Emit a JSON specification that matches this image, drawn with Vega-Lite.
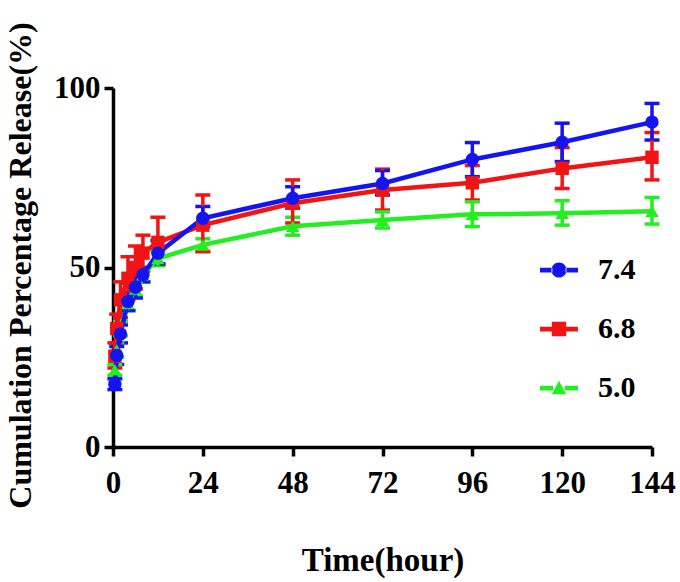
{
  "$schema": "https://vega.github.io/schema/vega-lite/v6.json",
  "description": "Cumulative release over time at three pH values",
  "autosize": "none",
  "padding": {"left": 113, "top": 88, "right": 28, "bottom": 135},
  "width": 539,
  "height": 359,
  "background": "white",
  "config": {
    "view": {"stroke": null},
    "font": "Liberation Serif",
    "axis": {
      "domainColor": "black",
      "domainWidth": 3.5,
      "tickColor": "black",
      "tickWidth": 3.5,
      "tickSize": 9,
      "grid": false,
      "labelFlush": false,
      "labelFont": "Liberation Serif",
      "labelFontWeight": "bold",
      "labelFontSize": 31,
      "labelColor": "black",
      "titleFont": "Liberation Serif",
      "titleFontWeight": "bold",
      "titleFontSize": 33,
      "titleColor": "black"
    },
    "legend": {
      "orient": "none",
      "legendX": 427,
      "legendY": 163,
      "padding": 0,
      "symbolSize": 1444,
      "symbolStrokeWidth": 0,
      "symbolOpacity": 1,
      "rowPadding": 25,
      "labelOffset": 20,
      "labelFont": "Liberation Serif",
      "labelFontWeight": "bold",
      "labelFontSize": 30,
      "labelColor": "black"
    }
  },
  "data": {
    "values": [
      {"time": 0.5, "ph": "5.0", "mean": 21.5, "lo": 20, "hi": 23},
      {"time": 1, "ph": "5.0", "mean": 27, "lo": 25, "hi": 29},
      {"time": 2, "ph": "5.0", "mean": 33, "lo": 31, "hi": 35},
      {"time": 4, "ph": "5.0", "mean": 40, "lo": 38, "hi": 42},
      {"time": 6, "ph": "5.0", "mean": 44, "lo": 42, "hi": 46},
      {"time": 8, "ph": "5.0", "mean": 48, "lo": 46, "hi": 50},
      {"time": 12, "ph": "5.0", "mean": 52.5, "lo": 50.5, "hi": 54.5},
      {"time": 24, "ph": "5.0", "mean": 56.3, "lo": 54.5, "hi": 58},
      {"time": 48, "ph": "5.0", "mean": 61.5, "lo": 59, "hi": 64},
      {"time": 72, "ph": "5.0", "mean": 63.2, "lo": 61, "hi": 65.5},
      {"time": 96, "ph": "5.0", "mean": 64.8, "lo": 61.4, "hi": 68.3},
      {"time": 120, "ph": "5.0", "mean": 65.1, "lo": 61.8, "hi": 68.6},
      {"time": 144, "ph": "5.0", "mean": 65.7, "lo": 62.1, "hi": 69.5},
      {"time": 0.5, "ph": "6.8", "mean": 25.3, "lo": 22, "hi": 29},
      {"time": 1, "ph": "6.8", "mean": 33, "lo": 29, "hi": 37},
      {"time": 2, "ph": "6.8", "mean": 41, "lo": 36, "hi": 46},
      {"time": 4, "ph": "6.8", "mean": 47, "lo": 41, "hi": 53},
      {"time": 6, "ph": "6.8", "mean": 50, "lo": 44, "hi": 56},
      {"time": 8, "ph": "6.8", "mean": 54, "lo": 49, "hi": 59},
      {"time": 12, "ph": "6.8", "mean": 57, "lo": 51, "hi": 64},
      {"time": 24, "ph": "6.8", "mean": 61.8, "lo": 54.4, "hi": 70.2},
      {"time": 48, "ph": "6.8", "mean": 67.9, "lo": 62.4, "hi": 74.4},
      {"time": 72, "ph": "6.8", "mean": 71.6, "lo": 66, "hi": 77.4},
      {"time": 96, "ph": "6.8", "mean": 73.6, "lo": 68.8, "hi": 78.4},
      {"time": 120, "ph": "6.8", "mean": 77.6, "lo": 72, "hi": 83.4},
      {"time": 144, "ph": "6.8", "mean": 80.7, "lo": 74.4, "hi": 87.6},
      {"time": 0.5, "ph": "7.4", "mean": 17.5, "lo": 16, "hi": 19},
      {"time": 1, "ph": "7.4", "mean": 25.5, "lo": 23, "hi": 28},
      {"time": 2, "ph": "7.4", "mean": 31.5, "lo": 29, "hi": 34},
      {"time": 4, "ph": "7.4", "mean": 40.5, "lo": 38, "hi": 43},
      {"time": 6, "ph": "7.4", "mean": 44.5, "lo": 41.5, "hi": 47.5},
      {"time": 8, "ph": "7.4", "mean": 48, "lo": 46, "hi": 50},
      {"time": 12, "ph": "7.4", "mean": 54, "lo": 51, "hi": 57.5},
      {"time": 24, "ph": "7.4", "mean": 63.7, "lo": 61.4, "hi": 67},
      {"time": 48, "ph": "7.4", "mean": 69.3, "lo": 66.5, "hi": 72.5},
      {"time": 72, "ph": "7.4", "mean": 73.4, "lo": 70.2, "hi": 77},
      {"time": 96, "ph": "7.4", "mean": 80.1, "lo": 75.3, "hi": 84.8},
      {"time": 120, "ph": "7.4", "mean": 84.9, "lo": 79.5, "hi": 90.2},
      {"time": 144, "ph": "7.4", "mean": 90.5, "lo": 85.5, "hi": 95.7}
    ]
  },
  "encoding": {
    "x": {
      "field": "time",
      "type": "quantitative",
      "scale": {"domain": [0, 144], "nice": false, "zero": true},
      "axis": {
        "values": [0, 24, 48, 72, 96, 120, 144],
        "labelPadding": 12,
        "title": "Time(hour)",
        "titleBaseline": "alphabetic",
        "titleY": 123,
        "titleX": 269.5,
        "titleAlign": "center"
      }
    },
    "color": {
      "field": "ph",
      "type": "nominal",
      "scale": {"domain": ["7.4", "6.8", "5.0"], "range": ["#1414f0", "#f01414", "#22ee22"]},
      "legend": null
    }
  },
  "layer": [
    {
      "mark": {"type": "errorbar", "opacity": 1, "thickness": 3.5, "ticks": {"size": 15, "thickness": 3.5, "opacity": 1}, "rule": {"opacity": 1}},
      "encoding": {
        "y": {
          "field": "lo",
          "type": "quantitative",
          "scale": {"domain": [0, 100], "nice": false},
          "axis": {
            "values": [0, 50, 100],
            "labelPadding": 4,
            "labelBaseline": "middle",
            "title": "Cumulation Percentage Release(%)",
            "titleFontSize": 32,
            "titleAngle": -90,
            "titleBaseline": "alphabetic",
            "titleAlign": "center",
            "titleX": -83,
            "titleY": 177
          }
        },
        "y2": {"field": "hi"}
      }
    },
    {
      "mark": {"type": "line", "strokeWidth": 4.5},
      "encoding": {
        "y": {"field": "mean", "type": "quantitative"}
      }
    },
    {
      "mark": {"type": "point", "filled": true, "opacity": 1, "size": 180},
      "encoding": {
        "y": {"field": "mean", "type": "quantitative"},
        "shape": {
          "field": "ph",
          "type": "nominal",
          "scale": {"domain": ["7.4", "6.8", "5.0"], "range": ["circle", "square", "triangle-up"]},
          "legend": null
        }
      }
    },
    {
      "transform": [{"filter": "datum.time > 1000"}],
      "mark": {"type": "point", "filled": true, "opacity": 1, "size": 1444},
      "encoding": {
        "y": {"field": "mean", "type": "quantitative"},
        "color": {
          "field": "ph",
          "type": "nominal",
          "scale": {"domain": ["7.4", "6.8", "5.0"], "range": ["#1414f0", "#f01414", "#22ee22"]},
          "legend": {"title": null}
        },
        "shape": {
          "field": "ph",
          "type": "nominal",
          "scale": {
            "domain": ["7.4", "6.8", "5.0"],
            "range": [
              "M-1,-0.125H-0.35V0.125H-1Z M0.35,-0.125H1V0.125H0.35Z M-0.4,0A0.4,0.4 0 1,0 0.4,0A0.4,0.4 0 1,0 -0.4,0Z",
              "M-1,-0.125H-0.38V0.125H-1Z M0.38,-0.125H1V0.125H0.38Z M-0.38,-0.38H0.38V0.38H-0.38Z",
              "M-1,-0.125H-0.3V0.125H-1Z M0.3,-0.125H1V0.125H0.3Z M-0.38,0.33L0,-0.38L0.38,0.33Z"
            ]
          },
          "legend": {"title": null}
        }
      }
    }
  ],
  "resolve": {"scale": {"shape": "independent", "color": "independent"}}
}
